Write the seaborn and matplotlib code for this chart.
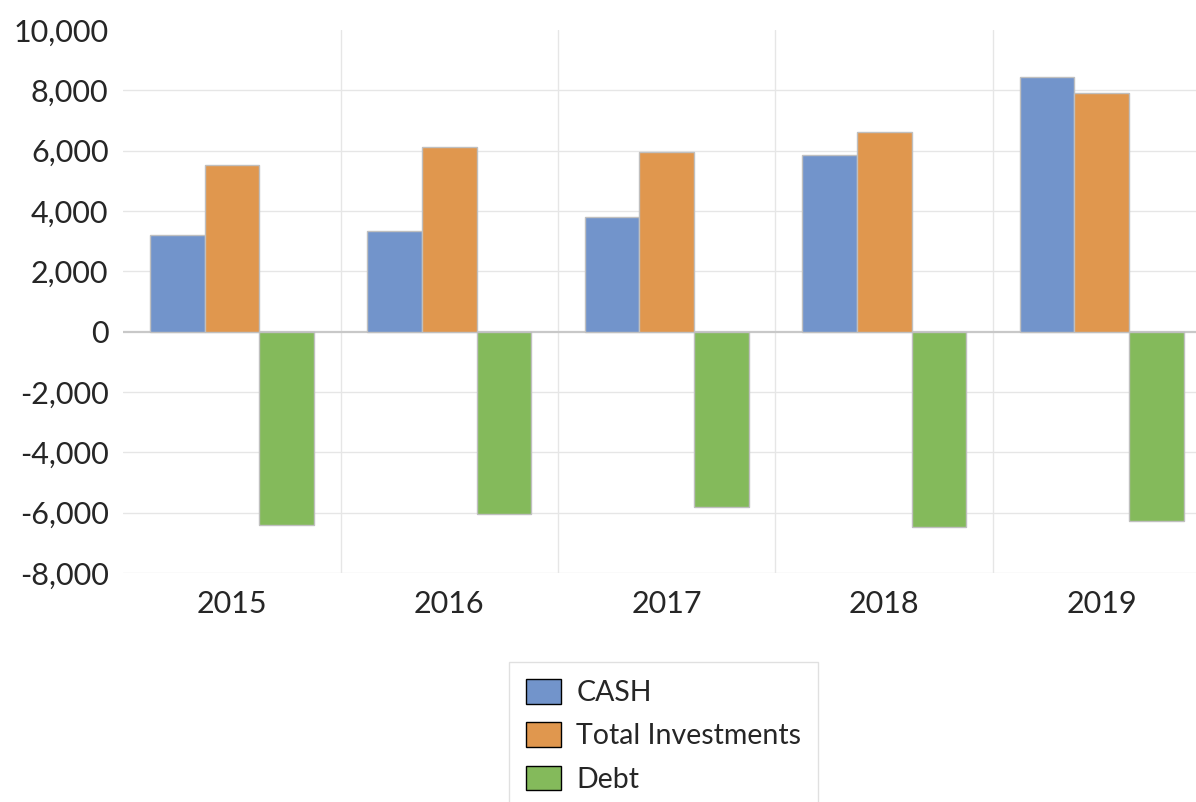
import pandas as pd
import matplotlib.pyplot as plt
from matplotlib.patches import Patch
import seaborn as sns

# data
years = ['2015', '2016', '2017', '2018', '2019']
cash = [3200, 3350, 3800, 5850, 8450]
investments = [5530, 6130, 5970, 6620, 7930]
debt = [-6400, -6040, -5800, -6460, -6260]
series_names = ['CASH', 'Total Investments', 'Debt']
colors = ['#7294CB', '#E0974E', '#84BA5B']

df = pd.DataFrame({
    'year': years * 3,
    'series': [s for s in series_names for _ in years],
    'value': cash + investments + debt,
})

sns.set_style('white')
plt.rcParams['font.family'] = ['Lato', 'DejaVu Sans']

fig = plt.figure(figsize=(11.96, 8.02), dpi=100)
ax = fig.add_axes([0.103, 0.2855, 0.909, 0.677])

# gridlines
for v in range(-8000, 10000, 2000):
    if v != 0:
        ax.axhline(v, color='#E6E6E6', lw=1, zorder=0)
for x in [0.5, 1.5, 2.5, 3.5]:
    ax.axvline(x, color='#E6E6E6', lw=1, zorder=0)

sns.barplot(data=df, x='year', y='value', hue='series', palette=colors,
            width=0.755, gap=0, edgecolor='#BFBFBF', linewidth=1,
            saturation=1, ax=ax, legend=False, zorder=2)

ax.axhline(0, color='#C8C8C8', lw=1.6, zorder=1)

ax.set_xlim(-0.5, 4.5)
ax.set_ylim(-8000, 10000)
ax.set_yticks(range(-8000, 10001, 2000))
ax.set_yticklabels([f'{v:,}' for v in range(-8000, 10001, 2000)])
ax.set_xlabel('')
ax.set_ylabel('')
ax.tick_params(axis='y', labelsize=22, length=0, pad=10.5)
ax.tick_params(axis='x', labelsize=22, length=0, pad=12)
for sp in ax.spines.values():
    sp.set_visible(False)

handles = [Patch(facecolor=c, edgecolor='black', lw=1) for c in colors]
leg = fig.legend(handles, series_names, loc='upper left',
                 bbox_to_anchor=(0.4256, 0.1746), fontsize=20.5,
                 handlelength=1.23, handleheight=0.95, labelspacing=0.57,
                 handletextpad=0.53, borderpad=0.6, borderaxespad=0,
                 fancybox=False, frameon=True, edgecolor='#D9D9D9')
leg.get_frame().set_linewidth(1)

fig.savefig('out.png', dpi=100)
